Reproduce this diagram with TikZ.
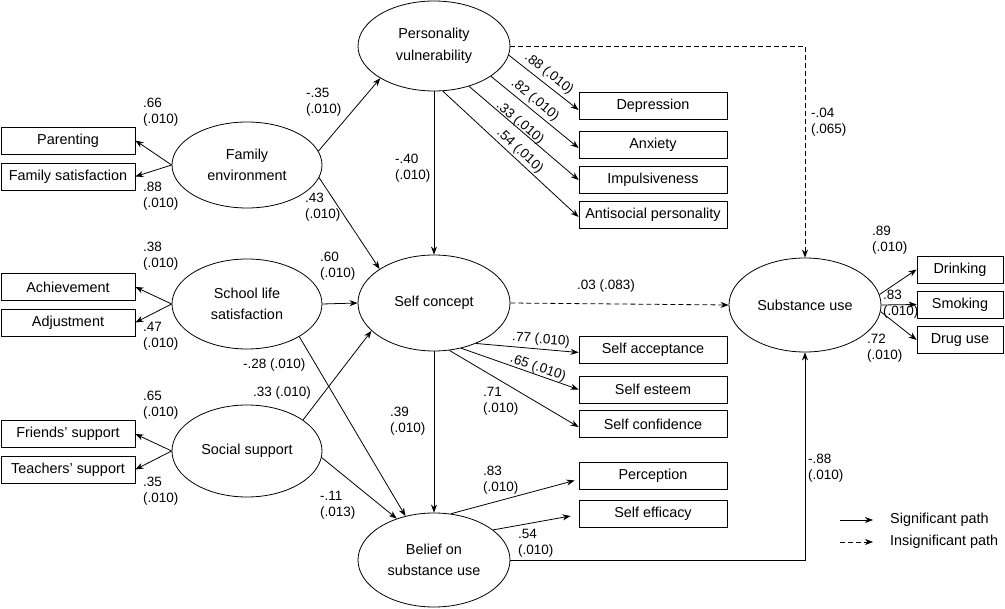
\documentclass[tikz,border=0pt]{standalone}
\usepackage{fontspec}
\setmainfont{Liberation Sans}
\usetikzlibrary{shapes.geometric,arrows.meta}
\begin{document}
\begin{tikzpicture}[x=1pt,y=-1pt,
  lat/.style={ellipse,draw,line width=0.8pt,inner sep=0pt,align=center,font=\fontsize{14.4}{21.5}\selectfont},
  obs/.style={rectangle,draw,line width=0.8pt,inner sep=0pt,minimum height=27pt,font=\fontsize{14.4}{17}\selectfont},
  lbl/.style={inner sep=0pt,align=left,font=\fontsize{13.5}{16}\selectfont},
  arr/.style={line width=0.8pt,-{Stealth[length=8pt,width=6pt,inset=2.5pt]}},
  darr/.style={arr,dash pattern=on 5pt off 3pt}]
\useasboundingbox (0,0) rectangle (1005,609);

% latent variables
\node[lat,minimum width=152pt,minimum height=90pt] (pv) at (434,46) {Personality\\vulnerability};
\node[lat,minimum width=150pt,minimum height=86pt] (fe) at (247,165) {Family\\environment};
\node[lat,minimum width=150pt,minimum height=90pt] (sl) at (247,304) {School life\\satisfaction};
\node[lat,minimum width=150pt,minimum height=92pt] (ss) at (247,451) {Social support};
\node[lat,minimum width=152pt,minimum height=96pt] (sc) at (434,303) {Self concept};
\node[lat,minimum width=152pt,minimum height=94pt] (bel) at (434,560) {Belief on\\substance use};
\node[lat,minimum width=152pt,minimum height=94pt] (su) at (805,305) {Substance use};

% observed left
\node[obs,minimum width=134pt] (par) at (68,140.5) {Parenting};
\node[obs,minimum width=134pt] (fs) at (68,176.5) {Family satisfaction};
\node[obs,minimum width=134pt] (ach) at (68,287) {Achievement};
\node[obs,minimum width=134pt] (adj) at (68,322.5) {Adjustment};
\node[obs,minimum width=134pt] (fri) at (68,434) {Friends’ support};
\node[obs,minimum width=134pt] (tea) at (68,469.5) {Teachers’ support};

% observed middle
\node[obs,minimum width=148pt] (dep) at (653,106) {Depression};
\node[obs,minimum width=148pt] (anx) at (653,145) {Anxiety};
\node[obs,minimum width=148pt] (imp) at (653,180) {Impulsiveness};
\node[obs,minimum width=148pt] (ant) at (653,215) {Antisocial personality};
\node[obs,minimum width=148pt] (sa) at (653,349.5) {Self acceptance};
\node[obs,minimum width=148pt] (se) at (653,389.5) {Self esteem};
\node[obs,minimum width=148pt] (scf) at (653,424) {Self confidence};
\node[obs,minimum width=148pt] (per) at (653,475.5) {Perception};
\node[obs,minimum width=148pt] (sef) at (653,514) {Self efficacy};

% observed right
\node[obs,minimum width=86pt] (dr) at (960,269.5) {Drinking};
\node[obs,minimum width=86pt] (sm) at (960,304.5) {Smoking};
\node[obs,minimum width=86pt] (du) at (960,340) {Drug use};

% measurement arrows
\draw[arr] (fe.west) -- (par.east);
\draw[arr] (fe.west) -- (fs.east);
\draw[arr] (sl.west) -- (ach.east);
\draw[arr] (sl.west) -- (adj.east);
\draw[arr] (ss.west) -- (fri.east);
\draw[arr] (ss.west) -- (tea.east);
\draw[arr] (pv.-7) -- ([yshift=-4pt]dep.west);
\draw[arr] (pv.-28) -- ([yshift=-3pt]anx.west);
\draw[arr] (pv.-49) -- (imp.west);
\draw[arr] (pv.-79) -- ([yshift=-2pt]ant.west);
\draw[arr] (sc.-44) -- ([yshift=-3pt]sa.west);
\draw[arr] (sc.-59) -- (se.west);
\draw[arr] (sc.-72) -- ([yshift=-3pt]scf.west);
\draw[arr] (bel.70) -- ([xshift=-4pt,yshift=-5pt]per.west);
\draw[arr] (bel.27) -- ([xshift=-8pt,yshift=-2pt]sef.west);
\draw[arr] (su.8) -- (dr.west);
\draw[arr] (su.east) -- (sm.west);
\draw[arr] (su.-5) -- (du.west);

% structural arrows
\draw[arr] (fe.11) -- (pv.211);
\draw[arr] (fe.-10) -- (sc.148);
\draw[arr] (pv.south) -- (sc.north);
\draw[arr] (sl.east) -- (sc.west);
\draw[arr] (sl.-32) -- (bel.123);
\draw[arr] (ss.29) -- (sc.204);
\draw[arr] (ss.-5) -- (bel.132);
\draw[arr] (sc.south) -- (bel.north);
\draw[darr] (pv.east) -| (su.north);
\draw[darr] (sc.east) -- (su.west);
\draw[arr] (bel.east) -| (su.south);

% labels
\node[lbl,anchor=west] (l66) at (143,112.5) {.66\\(.010)};
\node[lbl,anchor=west] (l88) at (143,196) {.88\\(.010)};
\node[lbl,anchor=west] (l35a) at (306,102) {-.35\\(.010)};
\node[lbl,anchor=west] (l43) at (305,207.5) {.43\\(.010)};
\node[lbl,anchor=west] (l38) at (143,256.5) {.38\\(.010)};
\node[lbl,anchor=west] (l47) at (143,336.5) {.47\\(.010)};
\node[lbl,anchor=west] (l60) at (320,266) {.60\\(.010)};
\node[lbl,anchor=west] (l28) at (243,365) {-.28 (.010)};
\node[lbl,anchor=west] (l33) at (253,393) {.33 (.010)};
\node[lbl,anchor=west] (l65) at (143,405) {.65\\(.010)};
\node[lbl,anchor=west] (l35b) at (143,491.5) {.35\\(.010)};
\node[lbl,anchor=west] (l11) at (320,505) {-.11\\(.013)};
\node[lbl,anchor=west] (l39) at (390,421.5) {.39\\(.010)};
\node[lbl,anchor=west] (l40) at (395,168) {-.40\\(.010)};
\node[lbl,rotate=-5] (l77) at (541,340) {.77 (.010)};
\node[lbl,rotate=-19] (l65b) at (538,368) {.65 (.010)};
\node[lbl,anchor=west] (l71) at (483,401) {.71\\(.010)};
\node[lbl] (l03) at (606,286) {.03 (.083)};
\node[lbl,anchor=west] (l83) at (483,480) {.83\\(.010)};
\node[lbl,anchor=west] (l54) at (518,543) {.54\\(.010)};
\node[lbl,anchor=west] (l88b) at (808,468) {-.88\\(.010)};
\node[lbl,anchor=west] (l04) at (811,122.5) {-.04\\(.065)};
\node[lbl,anchor=west] (l89) at (872,240) {.89\\(.010)};
\node[lbl,anchor=west] (l83b) at (883,304.5) {.83\\(.010)};
\node[lbl,anchor=west] (l72) at (867,348) {.72\\(.010)};
\node[lbl,rotate=-38.6] (r88) at (549,74) {.88 (.010)};
\node[lbl,rotate=-40] (r82) at (535,100) {.82 (.010)};
\node[lbl,rotate=-41] (r33) at (520,123) {.33 (.010)};
\node[lbl,rotate=-43] (r54) at (520,151) {.54 (.010)};

% legend
\coordinate (ls1) at (840,520);
\coordinate (ls2) at (840,542);
\node[lbl,anchor=west,font=\fontsize{14.4}{17}\selectfont] (leg1) at (890,520) {Significant path};
\node[lbl,anchor=west,font=\fontsize{14.4}{17}\selectfont] (leg2) at (890,542) {Insignificant path};
\draw[arr] (ls1) -- ([xshift=-17pt]leg1.west);
\draw[darr] (ls2) -- ([xshift=-17pt]leg2.west);
\end{tikzpicture}
\end{document}
